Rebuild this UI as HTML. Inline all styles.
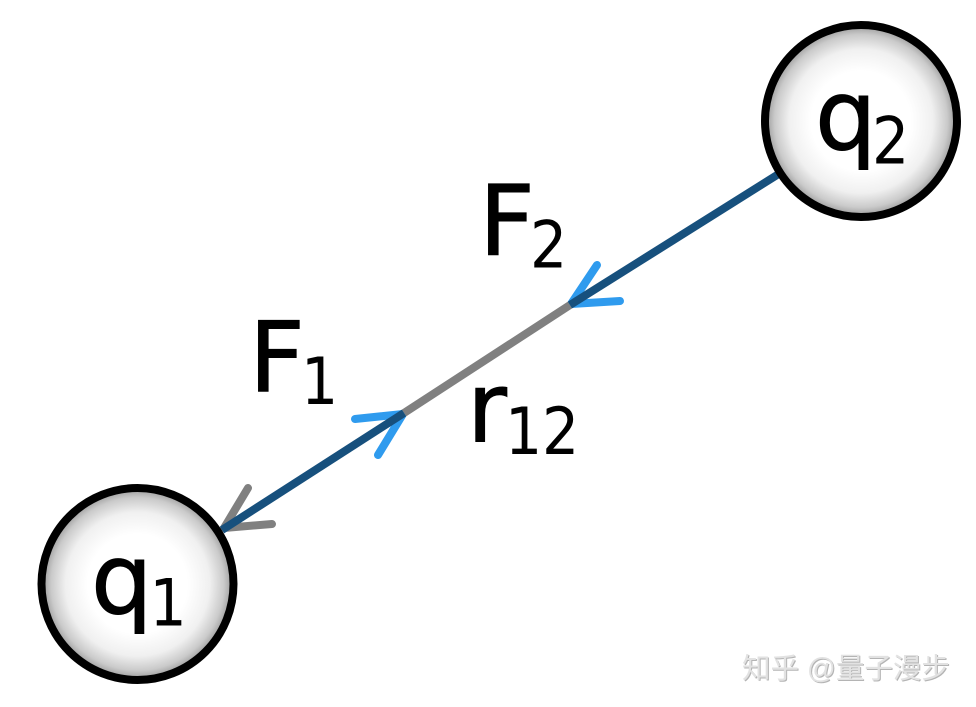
<!DOCTYPE html>
<html>
<head>
<meta charset="utf-8">
<style>
html,body{margin:0;padding:0;background:#fff;width:976px;height:707px;overflow:hidden}
svg{display:block}
text{font-family:"DejaVu Sans","Liberation Sans",sans-serif;fill:#000}
.b{stroke:#000;stroke-width:1px}
.wm,.ws{font-family:"Liberation Sans","Noto Sans CJK SC",sans-serif}
.ws{fill:#b4b4b4}
.wm{fill:#e2e2e2}
</style>
</head>
<body>
<svg width="976" height="707" viewBox="0 0 976 707" xmlns="http://www.w3.org/2000/svg">
<defs>
<radialGradient id="g" cx="50%" cy="50%" r="50%">
<stop offset="0%" stop-color="#fff"/>
<stop offset="52%" stop-color="#fff"/>
<stop offset="75%" stop-color="#f0f0f0"/>
<stop offset="90%" stop-color="#cacaca"/>
<stop offset="100%" stop-color="#959595"/>
</radialGradient>
</defs>
<path d="M597 265 L571 304 L620 301" fill="none" stroke="#2f9bee" stroke-width="8" stroke-linecap="round" stroke-linejoin="round"/>
<path d="M355 419 L403 414 L378 455" fill="none" stroke="#2f9bee" stroke-width="8" stroke-linecap="round" stroke-linejoin="round"/>
<path d="M248 488 L224 528 L272 524" fill="none" stroke="#808080" stroke-width="8" stroke-linecap="round" stroke-linejoin="round"/>
<line x1="570" y1="305" x2="404" y2="413" stroke="#808080" stroke-width="8"/>
<line x1="785" y1="170" x2="570" y2="305" stroke="#17507d" stroke-width="8"/>
<line x1="404" y1="413" x2="222" y2="530" stroke="#17507d" stroke-width="8"/>
<circle cx="861" cy="121" r="96" fill="url(#g)" stroke="#000" stroke-width="8"/>
<circle cx="137.5" cy="584" r="96" fill="url(#g)" stroke="#000" stroke-width="8"/>
<text class="b" x="815" y="149.5" font-size="97">q</text>
<text transform="translate(872,163.5) scale(.9,1)" font-size="65">2</text>
<text class="b" x="91" y="613.5" font-size="97">q</text>
<text transform="translate(149.5,625.5) scale(.9,1)" font-size="65">1</text>
<text class="b" x="479" y="255" font-size="97">F</text>
<text transform="translate(530,267.5) scale(.9,1)" font-size="65">2</text>
<text class="b" x="249" y="391.5" font-size="97">F</text>
<text transform="translate(301,404) scale(.9,1)" font-size="65">1</text>
<text class="b" x="467" y="441.5" font-size="97">r</text>
<text transform="translate(505,454) scale(.9,1)" font-size="65">1</text>
<text transform="translate(542,454) scale(.9,1)" font-size="65">2</text>
<text class="ws" x="743" y="679" font-size="28.5">知乎 @量子漫步</text>
<text class="wm" x="742" y="678" font-size="28.5">知乎 @量子漫步</text>
</svg>
</body>
</html>
